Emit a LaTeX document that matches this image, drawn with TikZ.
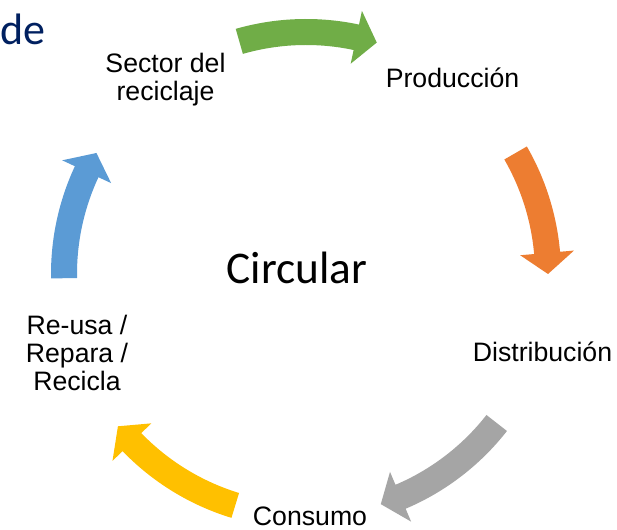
\documentclass[tikz,border=0pt]{standalone}
\usepackage{fontspec}
\setmainfont{Liberation Sans}
\newfontfamily\calib{Carlito}
\usetikzlibrary{calc}
\definecolor{cgreen}{HTML}{70AD47}
\definecolor{corange}{HTML}{ED7D31}
\definecolor{cgray}{HTML}{A5A5A5}
\definecolor{cyellow}{HTML}{FFC000}
\definecolor{cblue}{HTML}{5B9BD5}
\definecolor{cnavy}{HTML}{002060}
\newcommand{\cycarrow}[3]{%
  \pgfmathsetmacro{\ab}{#3+5}%
  \fill[#1] ($(C)+(#2:255)$) arc[start angle=#2,end angle=\ab,radius=255]
    -- ($(C)+(\ab:269)$) -- ($(C)+(#3:242)$) -- ($(C)+(\ab:215)$)
    -- ($(C)+(\ab:229)$) arc[start angle=\ab,end angle=#2,radius=229] -- cycle;
}
\tikzset{
  lbl/.style={inner sep=0pt, align=center, font=\fontsize{20}{21}\selectfont},
}
\begin{document}
\begin{tikzpicture}[x=0.75pt,y=0.75pt]
\useasboundingbox (0,0) rectangle (617,-530);
\fill[white] (0,0) rectangle (617,-530);
\coordinate (C) at (306,-274);
\cycarrow{cgreen}{106}{73}
\cycarrow{corange}{30}{0}
\cycarrow{cgray}{-38}{-72}
\cycarrow{cyellow}{-107}{-141}
\cycarrow{cblue}{181}{150}
\node[lbl] (prod) at (452.5,-78) {Producción};
\node[lbl] (sector) at (165.5,-80) {Sector del\\reciclaje};
\node[lbl] (dist) at (542.5,-352) {Distribución};
\node[lbl] (cons) at (310,-516) {Consumo};
\node[lbl] (reusa) at (77,-353) {Re-usa /\\Repara /\\Recicla};
\node[inner sep=0pt, font=\calib\fontsize{34}{40}\selectfont] (circ) at (297,-268) {Circular};
\node[inner sep=0pt, anchor=base west, text=cnavy, font=\calib\fontsize{33}{40}\selectfont] (de) at (0,-45) {de};
\end{tikzpicture}
\end{document}
